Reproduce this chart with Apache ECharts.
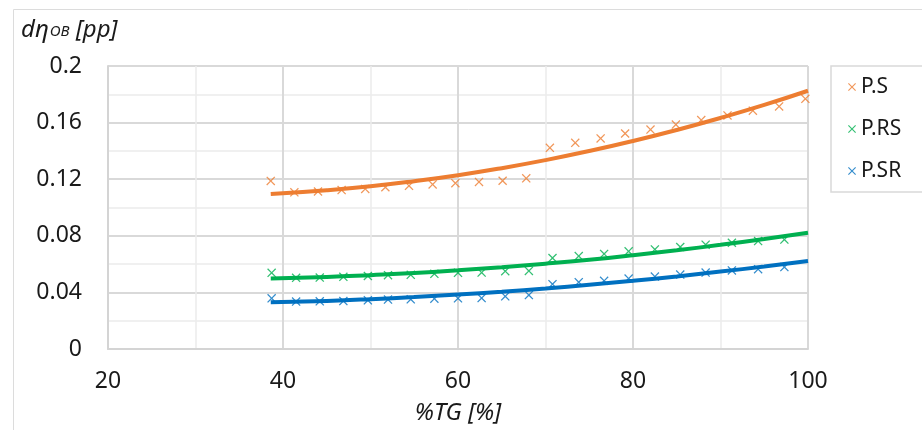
<!DOCTYPE html>
<html>
<head>
<meta charset="utf-8">
<script src="https://cdn.jsdelivr.net/npm/echarts@6/dist/echarts.min.js"></script>
<style>html,body{margin:0;padding:0;background:#fff}#c{width:922px;height:430px}</style>
</head>
<body>
<div id="c"></div>
<script>
// ---- data ----
const seriesNames = ['P.S', 'P.RS', 'P.SR'];
const xTicks = [20, 40, 60, 80, 100];
const yTicks = [0, 0.04, 0.08, 0.12, 0.16, 0.2];

const psX = [38.6, 41.3, 44.0, 46.7, 49.4, 51.7, 54.4, 57.1, 59.7, 62.4, 65.1, 67.8, 70.5, 73.4, 76.3, 79.1, 82.0, 84.9, 87.8, 90.8, 93.7, 96.7, 99.7];
const psY = [0.1188, 0.1107, 0.1113, 0.1123, 0.1131, 0.1143, 0.1153, 0.1163, 0.1172, 0.1181, 0.1189, 0.1206, 0.1422, 0.1457, 0.1488, 0.1523, 0.1551, 0.1586, 0.1618, 0.1651, 0.1684, 0.1714, 0.1768];

const prsX = [38.7, 41.5, 44.2, 46.9, 49.7, 52.0, 54.6, 57.3, 60.0, 62.7, 65.4, 68.1, 70.8, 73.8, 76.7, 79.5, 82.5, 85.4, 88.3, 91.3, 94.3, 97.3];
const prsY = [0.0538, 0.0503, 0.0505, 0.0510, 0.0516, 0.0522, 0.0524, 0.0531, 0.0538, 0.0540, 0.0550, 0.0552, 0.0643, 0.0657, 0.0672, 0.0690, 0.0704, 0.0721, 0.0737, 0.0751, 0.0763, 0.0773];

const psrX = prsX;
const psrY = [0.0358, 0.0335, 0.0337, 0.0339, 0.0344, 0.0349, 0.0351, 0.0356, 0.0358, 0.0360, 0.0372, 0.0381, 0.0458, 0.0472, 0.0482, 0.0498, 0.0512, 0.0526, 0.0540, 0.0555, 0.0564, 0.0579];

// trend lines
const trendX = [38.6, 45, 50, 55, 60, 65, 70, 75, 80, 85, 90, 95, 100];
const psTrend  = [0.1095, 0.1122, 0.1150, 0.1186, 0.1228, 0.1278, 0.1335, 0.1399, 0.1470, 0.1548, 0.1633, 0.1725, 0.1825];
const prsTrend = [0.0499, 0.0509, 0.0522, 0.0537, 0.0556, 0.0578, 0.0603, 0.0631, 0.0663, 0.0698, 0.0736, 0.0777, 0.0821];
const psrTrend = [0.0330, 0.0340, 0.0352, 0.0367, 0.0385, 0.0405, 0.0428, 0.0454, 0.0482, 0.0513, 0.0547, 0.0583, 0.0622];

const colors = ['#ED7D31', '#00B050', '#0070C0'];
// ---------------------------------------

const FONT = "'Noto Sans', 'Open Sans', sans-serif";
const XMARK = 'path://M0,1L1,0L5,4L9,0L10,1L6,5L10,9L9,10L5,6L1,10L0,9L4,5Z';
const zip = (xs, ys) => xs.map((x, i) => [x, ys[i]]);

const scatters = [[psX, psY], [prsX, prsY], [psrX, psrY]].map((d, i) => ({
  name: seriesNames[i],
  type: 'scatter',
  data: zip(d[0], d[1]),
  symbol: XMARK,
  symbolSize: 9,
  itemStyle: { color: colors[i] },
  z: 3
}));
const trends = [psTrend, prsTrend, psrTrend].map((t, i) => ({
  name: seriesNames[i] + ' trend',
  type: 'line',
  data: zip(trendX, t),
  smooth: true,
  showSymbol: false,
  symbol: 'none',
  lineStyle: { color: colors[i], width: 4 },
  z: 4
}));

const chart = echarts.init(document.getElementById('c'), null, { renderer: 'canvas' });
chart.setOption({
  animation: false,
  backgroundColor: '#fff',
  textStyle: { fontFamily: FONT },
  grid: { left: 108, right: 114, top: 66, bottom: 79, containLabel: false },
  xAxis: {
    type: 'value', min: xTicks[0], max: xTicks[xTicks.length - 1], interval: 20,
    name: '%TG [%]', nameLocation: 'middle', nameGap: 52,
    nameTextStyle: { fontSize: 24, fontStyle: 'italic', color: '#1a1a1a', fontFamily: FONT },
    axisLine: { show: true, lineStyle: { color: '#d4d4d4', width: 2 } },
    axisTick: { show: false },
    axisLabel: { fontSize: 23, color: '#1a1a1a', margin: 21, fontFamily: FONT },
    splitLine: { show: true, lineStyle: { color: '#d9d9d9', width: 2 } },
    minorTick: { show: false, splitNumber: 2 },
    minorSplitLine: { show: true, lineStyle: { color: '#ececec', width: 1.5 } }
  },
  yAxis: {
    type: 'value', min: yTicks[0], max: yTicks[yTicks.length - 1], interval: 0.04,
    axisLine: { show: true, lineStyle: { color: '#d4d4d4', width: 2 } },
    axisTick: { show: false },
    axisLabel: { fontSize: 23, color: '#1a1a1a', margin: 26, fontFamily: FONT },
    splitLine: { show: true, lineStyle: { color: '#d9d9d9', width: 2 } },
    minorTick: { show: false, splitNumber: 2 },
    minorSplitLine: { show: true, lineStyle: { color: '#ececec', width: 1.5 } }
  },
  legend: {
    data: seriesNames.map((n, i) => ({ name: n, icon: XMARK, itemStyle: { color: colors[i] } })),
    orient: 'vertical', left: 831, top: 66,
    itemWidth: 8, itemHeight: 8, itemGap: 16,
    padding: [8, 40, 8, 17],
    borderColor: '#d9d9d9', borderWidth: 1.5,
    textStyle: { fontSize: 21, color: '#1a1a1a', lineHeight: 26, fontFamily: FONT }
  },
  graphic: [
    { type: 'rect', left: 11, top: 7, silent: true, z: -10,
      shape: { width: 960, height: 500 },
      style: { fill: 'none', stroke: '#dcdcdc', lineWidth: 1 } },
    { type: 'text', left: 21, top: 18, z: 10,
      style: {
        text: '{a|dη}{b|OB}{a| [pp]}',
        rich: {
          a: { fontSize: 24, fontStyle: 'italic', fill: '#1a1a1a', fontFamily: FONT, verticalAlign: 'bottom' },
          b: { fontSize: 15, fontStyle: 'italic', fill: '#1a1a1a', fontFamily: FONT, verticalAlign: 'bottom', padding: [0, 0, 3, 1] }
        }
      } }
  ],
  series: [...trends, ...scatters]
});
</script>
</body>
</html>
